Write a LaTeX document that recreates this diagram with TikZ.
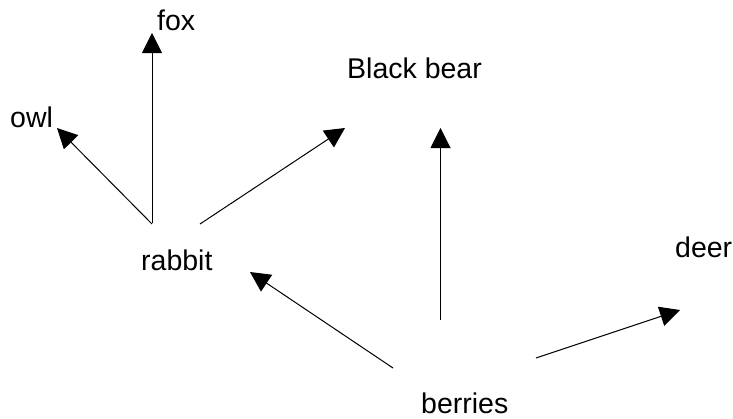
\documentclass[tikz,border=0pt]{standalone}
\usepackage{fontspec}
\setmainfont{Liberation Sans}
\usetikzlibrary{arrows.meta}

\tikzset{
  species/.style={anchor=base west, inner sep=0pt, font=\fontsize{28.5}{34}\selectfont},
  feeds/.style={line width=1pt, -{Triangle[length=20pt,width=20pt]}}
}

\begin{document}
\begin{tikzpicture}[x=1pt,y=-1pt]
  \useasboundingbox (0,0) rectangle (733,418);

  % organisms
  \node[species] (fox)     at (157,30)  {fox};
  \node[species] (owl)     at (10,127)  {owl};
  \node[species] (bear)    at (347,78)  {Black bear};
  \node[species] (rabbit)  at (141,270) {rabbit};
  \node[species] (deer)    at (675,257) {deer};
  \node[species] (berries) at (421,413) {berries};

  % connector ends
  \coordinate (rabbit-fox)  at (152,223);
  \coordinate (fox-in)      at (152,33);
  \coordinate (rabbit-owl)  at (152,224);
  \coordinate (owl-in)      at (57,128);
  \coordinate (rabbit-bear) at (200,224);
  \coordinate (bear-in-r)   at (345,128);
  \coordinate (berries-rab) at (393,368);
  \coordinate (rabbit-in)   at (250,272);
  \coordinate (berries-bear) at (440.5,320);
  \coordinate (bear-in-b)   at (440.5,128);
  \coordinate (berries-deer) at (536,358);
  \coordinate (deer-in)     at (680,310);

  % energy flow
  \draw[feeds] (rabbit-fox) -- (fox-in);
  \draw[feeds] (rabbit-owl) -- (owl-in);
  \draw[feeds] (rabbit-bear) -- (bear-in-r);
  \draw[feeds] (berries-rab) -- (rabbit-in);
  \draw[feeds] (berries-bear) -- (bear-in-b);
  \draw[feeds] (berries-deer) -- (deer-in);
\end{tikzpicture}
\end{document}
